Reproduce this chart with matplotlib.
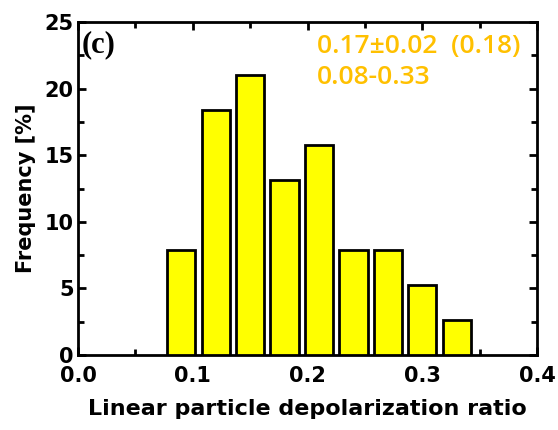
import matplotlib
matplotlib.use("Agg")
import matplotlib.pyplot as plt
from matplotlib.ticker import MultipleLocator

# Histogram of the linear particle depolarization ratio (bin centres, % of cases)
bin_centers = [0.09, 0.12, 0.15, 0.18, 0.21, 0.24, 0.27, 0.30, 0.33]
frequency = [7.89, 18.42, 21.05, 13.16, 15.79, 7.89, 7.89, 5.26, 2.63]
bin_width = 0.03
bar_fraction = 0.82

x_ticks = [0.0, 0.1, 0.2, 0.3, 0.4]
y_ticks = [0, 5, 10, 15, 20, 25]
stats_line1 = "0.17\u00b10.02  (0.18)"
stats_line2 = "0.08-0.33"
panel_label = "(c)"

fig = plt.figure(figsize=(5.58, 4.30), dpi=100)
ax = fig.add_axes([0.1398, 0.1744, 0.8226, 0.7744])

ax.bar(bin_centers, frequency, width=bin_width * bar_fraction,
       color="#FFFF00", edgecolor="black", linewidth=2.0, zorder=3)

ax.set_xlim(0.0, 0.4)
ax.set_ylim(0, 25)
ax.set_xticks(x_ticks)
ax.set_yticks(y_ticks)
ax.set_xticklabels([f"{v:.1f}" for v in x_ticks])
ax.set_yticklabels([str(v) for v in y_ticks])
ax.xaxis.set_minor_locator(MultipleLocator(0.05))
ax.yaxis.set_minor_locator(MultipleLocator(2.5))

ax.tick_params(which="both", direction="in", top=True, right=True,
               width=2.0, labelsize=15)
ax.tick_params(axis="x", which="major", pad=8)
ax.tick_params(axis="y", which="major", pad=3)
ax.tick_params(which="major", length=6)
ax.tick_params(which="minor", length=4)
for lbl in ax.get_xticklabels() + ax.get_yticklabels():
    lbl.set_fontweight("bold")
    lbl.set_family("DejaVu Sans")

for sp in ax.spines.values():
    sp.set_linewidth(2.0)

ax.set_xlabel("Linear particle depolarization ratio", fontsize=16,
              fontweight="bold", labelpad=9)
ax.set_ylabel("Frequency [%]", fontsize=15, fontweight="bold", labelpad=6)

ax.text(0.008, 0.975, panel_label, transform=ax.transAxes, ha="left", va="top",
        fontsize=22, fontweight="bold", family="Liberation Serif")
ax.text(0.52, 0.965, stats_line1, transform=ax.transAxes, ha="left", va="top",
        fontsize=19, fontweight="semibold", color="#FFC000", family="Open Sans")
ax.text(0.52, 0.87, stats_line2, transform=ax.transAxes, ha="left", va="top",
        fontsize=19, fontweight="semibold", color="#FFC000", family="Open Sans")

fig.savefig("out.png", dpi=100)
